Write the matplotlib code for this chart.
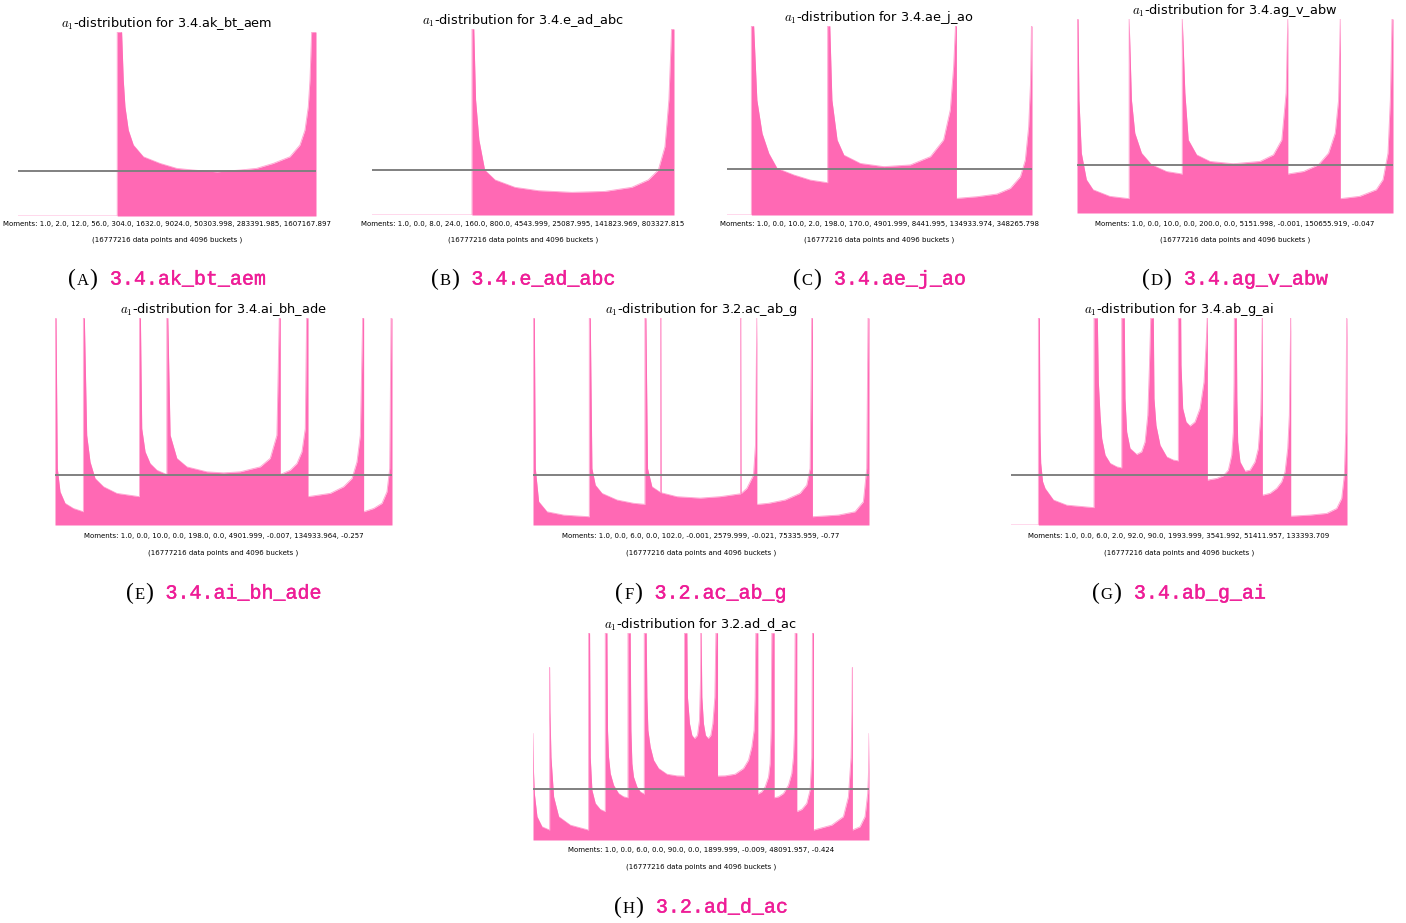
import matplotlib
matplotlib.use("Agg")
import matplotlib.pyplot as plt
import matplotlib.patheffects as pe
import numpy as np
from matplotlib.offsetbox import TextArea, HPacker, AnnotationBbox

plt.rcParams['mathtext.fontset'] = 'cm'

PINK = "#ff69b4"
CAPTION_PINK = "#ee1d97"
W, H = 1406, 923

LETTERS = ["A", "B", "C", "D", "E", "F", "G", "H"]
NAMES = ["3.4.ak_bt_aem", "3.4.e_ad_abc", "3.4.ae_j_ao", "3.4.ag_v_abw",
         "3.4.ai_bh_ade", "3.2.ac_ab_g", "3.4.ab_g_ai", "3.2.ad_d_ac"]
MOMENTS = [
    [1.0, 2.0, 12.0, 56.0, 304.0, 1632.0, 9024.0, 50303.998, 283391.985, 1607167.897],
    [1.0, 0.0, 8.0, 24.0, 160.0, 800.0, 4543.999, 25087.995, 141823.969, 803327.815],
    [1.0, 0.0, 10.0, 2.0, 198.0, 170.0, 4901.999, 8441.995, 134933.974, 348265.798],
    [1.0, 0.0, 10.0, 0.0, 200.0, 0.0, 5151.998, -0.001, 150655.919, -0.047],
    [1.0, 0.0, 10.0, 0.0, 198.0, 0.0, 4901.999, -0.007, 134933.964, -0.257],
    [1.0, 0.0, 6.0, 0.0, 102.0, -0.001, 2579.999, -0.021, 75335.959, -0.77],
    [1.0, 0.0, 6.0, 2.0, 92.0, 90.0, 1993.999, 3541.992, 51411.957, 133393.709],
    [1.0, 0.0, 6.0, 0.0, 90.0, 0.0, 1899.999, -0.009, 48091.957, -0.424],
]
DATA_POINTS = 16777216
BUCKETS = 4096

# level of the grey reference line (fraction of the visible height)
GRAY_LEVEL = [0.246, 0.244, 0.245, 0.245, 0.241, 0.241, 0.241, 0.246]

# density, piece by piece (x and height as fraction of the panel)
A_X = [[0, 0.3329],
       [0.3329, 0.3477, 0.3533, 0.359, 0.3701, 0.3869, 0.4205, 0.4765, 0.5326, 0.587, 0.667,
        0.746, 0.8004, 0.8565, 0.9125, 0.9461, 0.9629, 0.974, 0.9797, 0.9853, 1.0]]
A_Y = [[0, 0],
       [1.0, 1.0, 0.739, 0.594, 0.467, 0.386, 0.322, 0.286, 0.259, 0.25, 0.240,
        0.25, 0.259, 0.286, 0.322, 0.386, 0.467, 0.594, 0.739, 1.0, 1.0]]

B_X = [[0, 0.331],
       [0.331, 0.337, 0.343, 0.354, 0.373, 0.407, 0.473, 0.550, 0.661, 0.771, 0.860, 0.915, 0.948, 0.970, 0.983, 0.992, 1.0]]
B_Y = [[0, 0],
       [1.0, 1.0, 0.62, 0.404, 0.242, 0.189, 0.149, 0.131, 0.122, 0.127, 0.149, 0.189, 0.242, 0.368, 0.62, 1.0, 1.0]]

C_X = [[0, 0.0798],
       [0.0798, 0.0874, 0.098, 0.115, 0.137, 0.164, 0.219, 0.273, 0.330],
       [0.330, 0.337, 0.344, 0.361, 0.383, 0.437, 0.514, 0.601, 0.667, 0.710, 0.732, 0.743, 0.749, 0.752],
       [0.752, 0.820, 0.885, 0.929, 0.962, 0.978, 0.989, 0.995, 0.998, 1.0]]
C_Y = [[0, 0],
       [1.0, 1.0, 0.608, 0.432, 0.326, 0.247, 0.212, 0.185, 0.171],
       [1.0, 1.0, 0.608, 0.397, 0.317, 0.273, 0.256, 0.265, 0.309, 0.397, 0.556, 0.785, 1.0, 1.0],
       [0.088, 0.097, 0.111, 0.141, 0.203, 0.291, 0.467, 0.697, 1.0, 1.0]]

D_X = [[0, 0.0032, 0.0063, 0.0137, 0.0296, 0.0507, 0.1036, 0.1649],
       [0.1649, 0.1723, 0.1829, 0.2040, 0.2357, 0.2833, 0.3330],
       [0.3330, 0.3414, 0.3520, 0.3784, 0.4207, 0.4947, 0.5793, 0.6216, 0.6480, 0.6617, 0.6670],
       [0.6670, 0.7167, 0.7643, 0.7960, 0.8171, 0.8277, 0.8330],
       [0.8330, 0.8943, 0.9471, 0.9683, 0.9841, 0.9915, 0.9968, 1.0]]
D_Y = [[1.0, 1.0, 0.583, 0.309, 0.172, 0.120, 0.086, 0.074],
       [1.0, 0.583, 0.412, 0.309, 0.249, 0.214, 0.201],
       [1.0, 0.62, 0.377, 0.300, 0.266, 0.254, 0.266, 0.300, 0.377, 0.62, 1.0],
       [0.201, 0.214, 0.249, 0.309, 0.412, 0.583, 1.0],
       [0.074, 0.086, 0.120, 0.172, 0.309, 0.583, 1.0, 1.0]]

E_X = [[0, 0.003, 0.0069, 0.0149, 0.0297, 0.0545, 0.0842],
       [0.0842, 0.0871, 0.0941, 0.1040, 0.1188, 0.1436, 0.1832, 0.2505],
       [0.2505, 0.2535, 0.2574, 0.2673, 0.2822, 0.3020, 0.3317],
       [0.3317, 0.3347, 0.3416, 0.3614, 0.3911, 0.4505, 0.5, 0.5495, 0.6089, 0.6386, 0.6584, 0.6653, 0.6683],
       [0.6683, 0.6980, 0.7178, 0.7327, 0.7426, 0.7465, 0.7505],
       [0.7505, 0.8168, 0.8564, 0.8812, 0.8960, 0.9059, 0.9129, 0.9158],
       [0.9158, 0.9455, 0.9703, 0.9851, 0.9931, 0.9970, 1.0]]
E_Y = [[1.0, 1.0, 0.273, 0.161, 0.105, 0.080, 0.064],
       [1.0, 1.0, 0.434, 0.305, 0.225, 0.185, 0.153, 0.137],
       [1.0, 1.0, 0.466, 0.354, 0.297, 0.265, 0.244],
       [1.0, 1.0, 0.434, 0.322, 0.281, 0.257, 0.252, 0.257, 0.281, 0.322, 0.434, 1.0, 1.0],
       [0.244, 0.265, 0.297, 0.354, 0.466, 1.0, 1.0],
       [0.137, 0.153, 0.185, 0.225, 0.305, 0.434, 1.0, 1.0],
       [0.064, 0.080, 0.105, 0.161, 0.273, 1.0, 1.0]]

F_X = [[0, 0.0040, 0.0069, 0.0168, 0.0416, 0.0912, 0.1675],
       [0.1675, 0.1705, 0.1754, 0.1853, 0.2052, 0.2498, 0.2993, 0.3330],
       [0.3330, 0.3360, 0.3409, 0.3538, 0.3786, 0.3798, 0.3806, 0.3814, 0.4281, 0.4975,
        0.5570, 0.6176, 0.6184, 0.6192, 0.6363, 0.6561, 0.6620, 0.6660],
       [0.6660, 0.6690, 0.7007, 0.7502, 0.7948, 0.8147, 0.8246, 0.8295, 0.8315],
       [0.8315, 0.9088, 0.9584, 0.9832, 0.9931, 0.9970, 1.0]]
F_Y = [[1.0, 1.0, 0.273, 0.113, 0.064, 0.048, 0.040],
       [1.0, 1.0, 0.273, 0.193, 0.153, 0.121, 0.105, 0.100],
       [1.0, 1.0, 0.273, 0.185, 0.158, 0.157, 1.0, 0.156, 0.137, 0.130,
        0.137, 0.151, 1.0, 0.152, 0.177, 0.241, 0.386, 1.0],
       [0.100, 0.100, 0.105, 0.121, 0.153, 0.193, 0.273, 1.0, 1.0],
       [0.040, 0.048, 0.064, 0.113, 0.273, 1.0, 1.0]]

G_X = [[0, 0.0814],
       [0.0814, 0.0844, 0.0864, 0.0884, 0.0940, 0.1013, 0.1261, 0.1658, 0.2470],
       [0.2470, 0.257, 0.260, 0.265, 0.270, 0.280, 0.295, 0.315, 0.3295],
       [0.3295, 0.3372, 0.3393, 0.3443, 0.3542, 0.374, 0.389, 0.399, 0.407, 0.412, 0.4158, 0.4167],
       [0.4167, 0.4236, 0.4256, 0.4315, 0.4435, 0.4634, 0.4830, 0.4979],
       [0.4979, 0.505, 0.506, 0.511, 0.521, 0.5327, 0.5476, 0.5625, 0.5744, 0.5824, 0.5842],
       [0.5842, 0.6122, 0.6318, 0.6467, 0.6568, 0.6616, 0.6637, 0.6646],
       [0.6646, 0.6705, 0.6722, 0.6747, 0.6815, 0.6964, 0.7113, 0.7262, 0.736, 0.7431, 0.7461, 0.7479],
       [0.7479, 0.7509, 0.7708, 0.7908, 0.8057, 0.8155, 0.8235, 0.8283, 0.8304, 0.8324],
       [0.8324, 0.8354, 0.8899, 0.9396, 0.9693, 0.9842, 0.992, 0.9961, 0.999, 1.0]]
G_Y = [[0, 0],
       [1.0, 1.0, 0.45, 0.30, 0.21, 0.177, 0.121, 0.096, 0.084],
       [1.0, 1.0, 0.691, 0.531, 0.418, 0.338, 0.298, 0.281, 0.276],
       [1.0, 1.0, 0.611, 0.450, 0.370, 0.341, 0.354, 0.402, 0.531, 0.772, 1.0, 1.0],
       [1.0, 1.0, 0.611, 0.482, 0.386, 0.329, 0.314, 0.310],
       [1.0, 1.0, 0.772, 0.563, 0.498, 0.478, 0.498, 0.563, 0.691, 0.932, 1.0],
       [0.217, 0.225, 0.238, 0.265, 0.338, 0.450, 0.691, 1.0],
       [1.0, 1.0, 0.611, 0.402, 0.305, 0.260, 0.265, 0.305, 0.370, 0.531, 0.772, 1.0],
       [0.145, 0.145, 0.153, 0.177, 0.209, 0.257, 0.370, 0.531, 0.772, 1.0],
       [0.043, 0.043, 0.048, 0.056, 0.080, 0.129, 0.241, 0.450, 1.0, 1.0]]

H_X = [[0, 0.0015, 0.0040, 0.0119, 0.0268, 0.0496],
       [0.0496, 0.0506, 0.0535, 0.0614, 0.0763, 0.1110, 0.1655],
       [0.1653, 0.1684, 0.1704, 0.1754, 0.1853, 0.2001, 0.2150],
       [0.2150, 0.2200, 0.2218, 0.2248, 0.2299, 0.2397, 0.2545, 0.2694, 0.2825],
       [0.2825, 0.2893, 0.2914, 0.2944, 0.2991, 0.3092, 0.3191, 0.3310],
       [0.3310, 0.3369, 0.3390, 0.3420, 0.3488, 0.3587, 0.3735, 0.3985, 0.4282, 0.4508],
       [0.4508, 0.4579, 0.4597, 0.4657, 0.4728, 0.4805, 0.4894, 0.4954, 0.4984, 0.4996],
       [0.4996, 0.5005, 0.5025, 0.5073, 0.5132, 0.5213, 0.5293, 0.5352, 0.5412, 0.5443, 0.5492],
       [0.5492, 0.5718, 0.6015, 0.6265, 0.6413, 0.6512, 0.6580, 0.6610, 0.6631, 0.6690],
       [0.6690, 0.6809, 0.6908, 0.7009, 0.7056, 0.7086, 0.7107, 0.7175],
       [0.7175, 0.7306, 0.7455, 0.7603, 0.7701, 0.7752, 0.7782, 0.7800, 0.7850],
       [0.7850, 0.7999, 0.8147, 0.8246, 0.8296, 0.8316, 0.8347],
       [0.8345, 0.8890, 0.9237, 0.9386, 0.9465, 0.9494, 0.9504],
       [0.9504, 0.9732, 0.9881, 0.9960, 0.9985, 1.0]]
H_Y = [[0.514, 0.33, 0.225, 0.113, 0.064, 0.048],
       [0.833, 0.62, 0.40, 0.209, 0.113, 0.072, 0.048],
       [1.0, 1.0, 0.40, 0.241, 0.177, 0.148, 0.137],
       [1.0, 1.0, 0.531, 0.402, 0.322, 0.265, 0.225, 0.209, 0.204],
       [1.0, 1.0, 0.531, 0.370, 0.305, 0.257, 0.233, 0.222],
       [1.0, 1.0, 0.691, 0.531, 0.450, 0.386, 0.346, 0.318, 0.310, 0.309],
       [1.0, 1.0, 0.691, 0.563, 0.506, 0.490, 0.506, 0.579, 0.772, 1.0],
       [1.0, 1.0, 0.691, 0.563, 0.506, 0.490, 0.506, 0.563, 0.691, 1.0, 1.0],
       [0.309, 0.310, 0.318, 0.346, 0.386, 0.450, 0.531, 0.691, 1.0, 1.0],
       [0.222, 0.233, 0.257, 0.305, 0.370, 0.531, 1.0, 1.0],
       [0.204, 0.209, 0.225, 0.265, 0.322, 0.402, 0.531, 1.0, 1.0],
       [0.137, 0.148, 0.177, 0.241, 0.40, 1.0, 1.0],
       [0.048, 0.072, 0.113, 0.209, 0.40, 0.62, 0.833],
       [0.048, 0.064, 0.113, 0.225, 0.33, 0.514]]

SEG_X = [A_X, B_X, C_X, D_X, E_X, F_X, G_X, H_X]
SEG_Y = [A_Y, B_Y, C_Y, D_Y, E_Y, F_Y, G_Y, H_Y]

# panel boxes in pixels: left, top, right, bottom
BOXES = [(18, 32, 316, 216), (372, 29, 674, 215), (727, 26, 1032, 215), (1077, 19, 1393, 213),
         (55, 318, 392, 525), (533, 318, 869, 525), (1011, 318, 1347, 525),
         (533, 633, 869, 840)]
# y of moments line, buckets line, caption
TEXT_Y = [(224, 240, 279)] * 4 + [(536, 553, 593)] * 3 + [(850, 867, 907)]

fig = plt.figure(figsize=(W / 100, H / 100), dpi=100)

for i, name in enumerate(NAMES):
    l, t, r, b = BOXES[i]
    ax = fig.add_axes([l / W, 1 - b / H, (r - l) / W, (b - t) / H])
    xs = np.concatenate(SEG_X[i])
    ys = np.concatenate(SEG_Y[i])
    ax.fill_between(xs, ys, color=PINK, lw=0)
    ax.plot(xs, ys, color=PINK, lw=0.6, alpha=0.6)
    ax.axhline(GRAY_LEVEL[i], color="gray", lw=1.4)
    ax.set_xlim(0, 1)
    ax.set_ylim(0, 1)
    ax.axis("off")
    ax.set_title(r"$a_1$-distribution for " + name, fontsize=9.3, pad=0.8)

    cx = (l + r) / 2 / W
    y1, y2, y3 = TEXT_Y[i]
    fig.text(cx, 1 - y1 / H, "Moments: " + ", ".join(str(m) for m in MOMENTS[i]),
             ha="center", va="center", fontsize=5)
    fig.text(cx, 1 - y2 / H, f"({DATA_POINTS} data points and {BUCKETS} buckets )",
             ha="center", va="center", fontsize=5)

    serif = dict(family="Liberation Serif", color="black")
    parts = [TextArea("(", textprops=dict(fontsize=17, **serif)),
             TextArea(LETTERS[i], textprops=dict(fontsize=12, **serif)),
             TextArea(")", textprops=dict(fontsize=17, **serif)),
             TextArea(" " + name, textprops=dict(
                 fontsize=14.4, family="Liberation Mono", color=CAPTION_PINK,
                 path_effects=[pe.withStroke(linewidth=0.3, foreground=CAPTION_PINK)]))]
    box = HPacker(children=parts, align="baseline", pad=0, sep=0.5)
    ab = AnnotationBbox(box, (cx, 1 - y3 / H), xycoords="figure fraction",
                        box_alignment=(0.5, 0.5), frameon=False, pad=0)
    fig.add_artist(ab)

fig.savefig("out.png", dpi=100)
